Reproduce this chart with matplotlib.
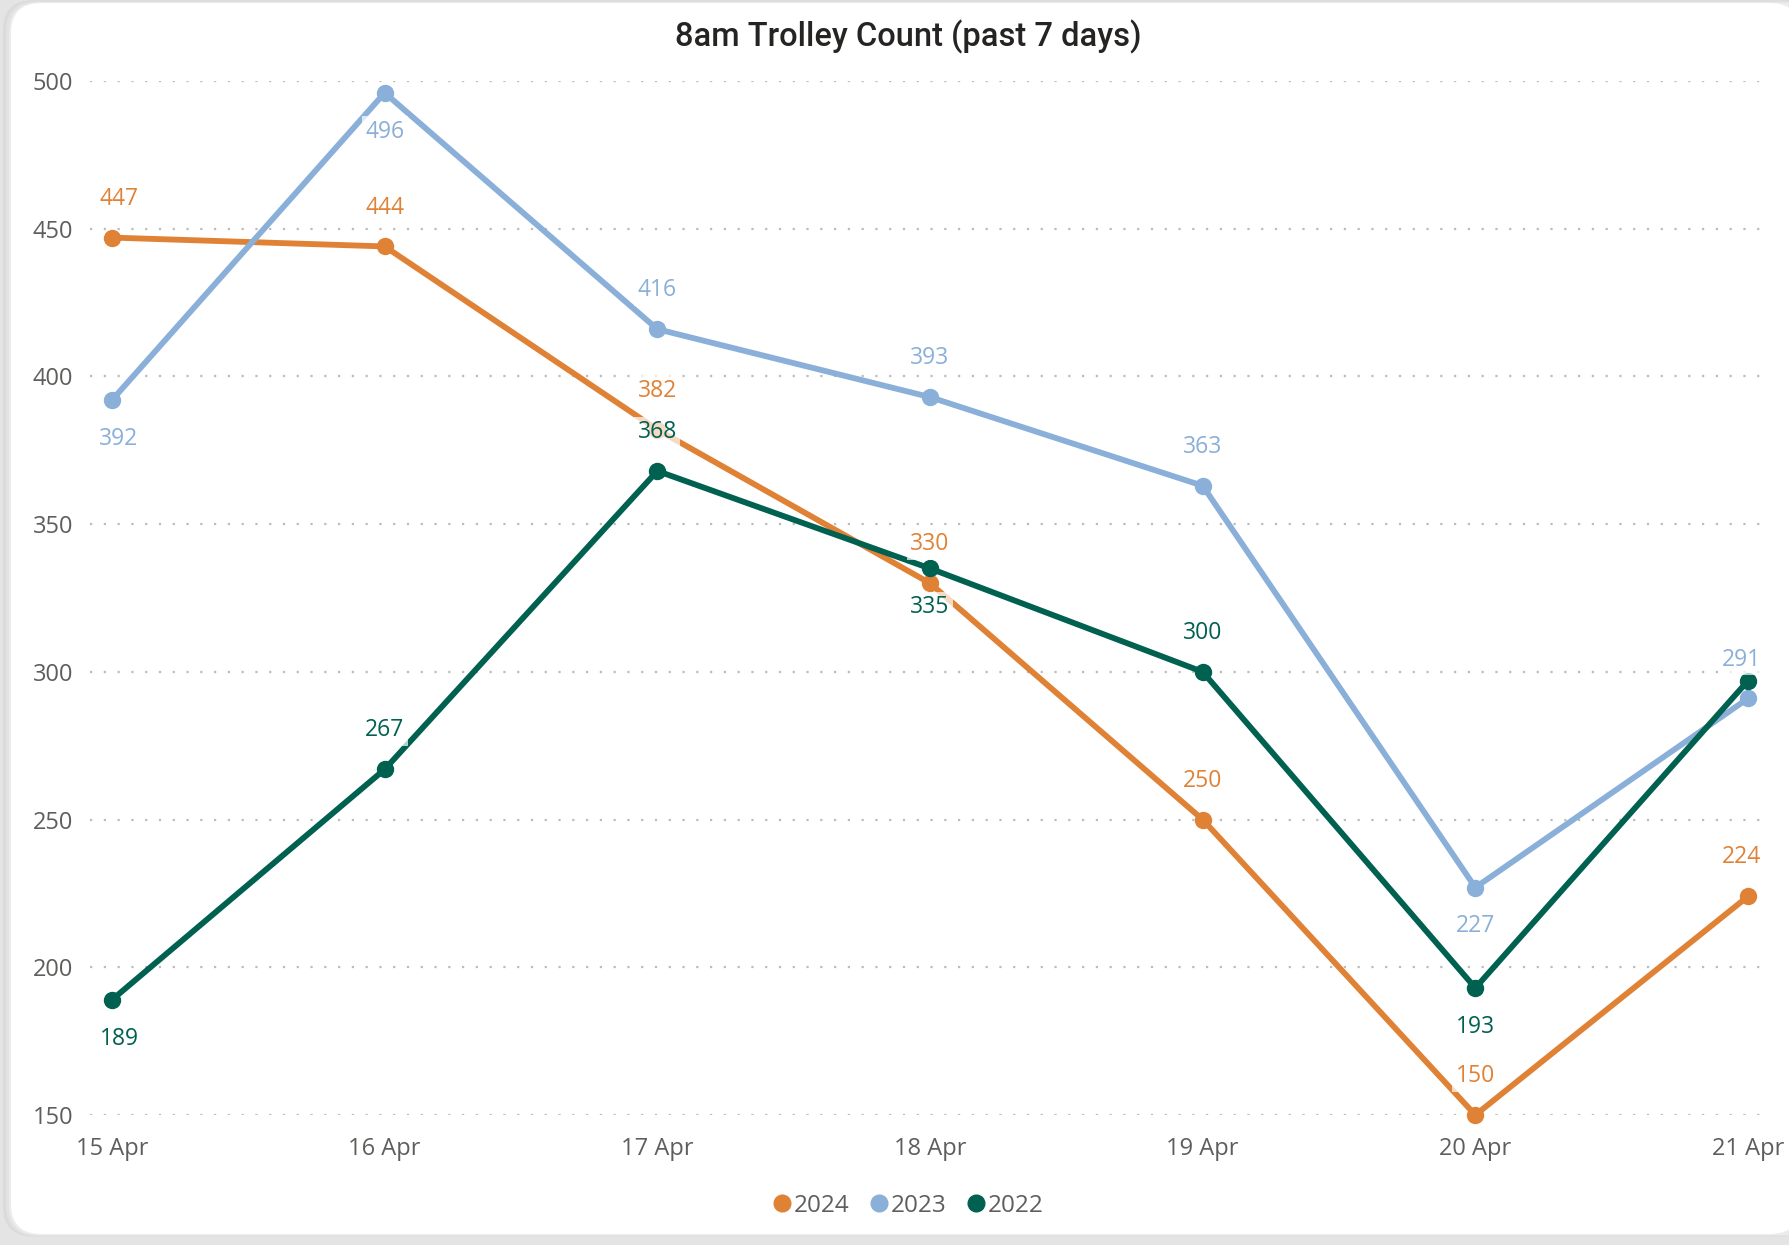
import matplotlib
matplotlib.use("Agg")
import matplotlib.pyplot as plt
from matplotlib.patches import FancyBboxPatch
from matplotlib.lines import Line2D

days = ["15 Apr", "16 Apr", "17 Apr", "18 Apr", "19 Apr", "20 Apr", "21 Apr"]
series_names = ["2024", "2023", "2022"]
vals_2024 = [447, 444, 382, 330, 250, 150, 224]
vals_2023 = [392, 496, 416, 393, 363, 227, 291]
vals_2022 = [189, 267, 368, 335, 300, 193, 297]
# label placement: 1 above, -1 below, 0 hidden
pos_2024 = [1, 1, 1, 1, 1, 1, 1]
pos_2023 = [-1, -1, 1, 1, 1, -1, 1]
pos_2022 = [-1, 1, 1, -1, 1, -1, 0]
colors = ["#E08236", "#8AAFD8", "#006150"]
yticks = [150, 200, 250, 300, 350, 400, 450, 500]

plt.rcParams['font.family'] = ['Open Sans', 'DejaVu Sans']
W, H = 1790, 1245
fig = plt.figure(figsize=(W / 100, H / 100), dpi=100)
fig.patch.set_facecolor("#e4e4e4")

# background card
bg = fig.add_axes([0, 0, 1, 1])
bg.set_xlim(0, W)
bg.set_ylim(H, 0)
bg.axis("off")
for off, col in [(8, "#dadada"), (5, "#e2e2e2"), (2, "#ececec")]:
    bg.add_patch(FancyBboxPatch((11 - off, 3 - off / 3), W + 40, 1235 - 3 + off / 2,
                                boxstyle="round,pad=0,rounding_size=30",
                                facecolor=col, edgecolor="none"))
bg.add_patch(FancyBboxPatch((11, 3), 1800 - 11, 1234 - 3,
                            boxstyle="round,pad=0,rounding_size=30",
                            facecolor="white", edgecolor="none"))

left_px, right_px = 90, 1766
top_px, bot_px = 81, 1115
ax = fig.add_axes([left_px / W, 1 - bot_px / H, (right_px - left_px) / W, (bot_px - top_px) / H])
ax.set_facecolor("none")
x = list(range(len(days)))
ppu = (1748 - 112) / 6
ax.set_xlim(-(112 - left_px) / ppu, 6 + (right_px - 1748) / ppu)
ax.set_ylim(150, 500)

for vals, col, name in zip([vals_2024, vals_2023, vals_2022], colors, series_names):
    ax.plot(x, vals, color=col, lw=4.2, marker="o", ms=11.5, clip_on=False,
            solid_capstyle="round", zorder=3, label=name)

for vals, pos, col in zip([vals_2024, vals_2023, vals_2022], [pos_2024, pos_2023, pos_2022], colors):
    for i, (v, p) in enumerate(zip(vals, pos)):
        if p == 0:
            continue
        dx = 5 if i == 0 else (-5 if i == len(vals) - 1 else 0)
        ax.annotate(str(v), (i, v), xytext=(dx, 28 * p), textcoords="offset points",
                    ha="center", va="center", color=col, fontsize=16.5, zorder=4,
                    bbox=dict(boxstyle="square,pad=0.15", facecolor="white",
                              edgecolor="none", alpha=0.7),
                    annotation_clip=False)

ax.set_yticks(yticks)
ax.set_xticks(x)
ax.set_xticklabels(days)
ax.tick_params(axis="both", length=0, labelsize=17, labelcolor="#605E5C")
ax.tick_params(axis="y", pad=12)
ax.tick_params(axis="x", pad=16)
ax.grid(axis="y", color="#bcbcbc", lw=1.6, linestyle=(0, (1, 5.2)))
ax.grid(axis="x", visible=False)
for s in ax.spines.values():
    s.set_visible(False)

fig.text(908 / W, 1 - 46 / H, "8am Trolley Count (past 7 days)", ha="center", va="baseline",
         fontsize=23.5, color="#252423", family=["Roboto", "DejaVu Sans"], weight="medium")

handles = [Line2D([], [], marker="o", ls="none", color=c, ms=12) for c in colors]
fig.legend(handles, series_names, loc="center", bbox_to_anchor=(0.506, 1 - 1206 / H),
           ncol=3, frameon=False, fontsize=17.5, handletextpad=-0.1, columnspacing=0.6,
           labelcolor="#605E5C", handlelength=1.2)

fig.savefig("out.png", dpi=100, facecolor=fig.get_facecolor())
